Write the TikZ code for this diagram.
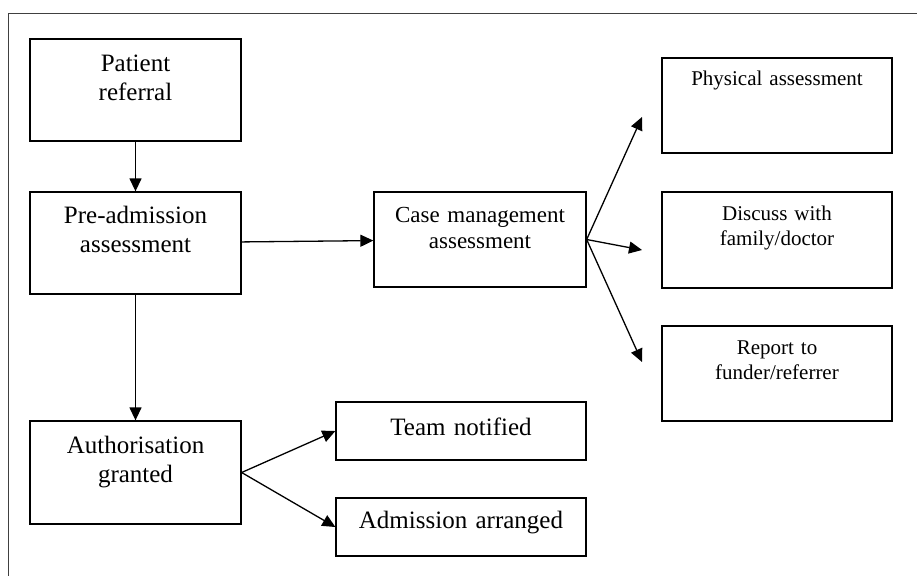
\documentclass[tikz,border=0pt]{standalone}
\usepackage{fontspec}
\setmainfont{Liberation Serif}
\usetikzlibrary{arrows.meta}

\tikzset{
  box/.style={draw, line width=1.3pt, inner sep=0pt, align=center},
  bigtext/.style={font=\fontsize{25}{29}\selectfont},
  midtext/.style={font=\fontsize{23}{26}\selectfont},
  smalltext/.style={font=\fontsize{21}{25}\selectfont},
  arr/.style={line width=1.3pt, -{Triangle[length=13pt,width=12pt]}},
}

\begin{document}
\begin{tikzpicture}[x=1pt,y=-1pt]
\useasboundingbox (0,0) rectangle (917,576);
\draw[line width=1pt, black!75] (917,13) -- (8,13) -- (8,576);

\node[box, bigtext, text width=211pt, text height=32pt, text depth=70pt] (ref) at (135.5,90) {Patient\\referral};
\node[box, bigtext, text width=211pt, text height=31pt, text depth=71pt] (pre) at (135.5,243) {Pre-admission\\assessment};
\node[box, bigtext, text width=211pt, text height=32pt, text depth=71pt] (auth) at (135.5,472.5) {Authorisation\\granted};
\node[box, bigtext, text width=250pt, text height=33pt, text depth=25pt] (team) at (461,431) {Team notified};
\node[box, bigtext, text width=250pt, text height=30pt, text depth=28pt] (adm) at (461,527) {Admission arranged};
\node[box, midtext, text width=212pt, text height=30pt, text depth=65pt] (case) at (480,239.5) {Case management\\assessment};
\node[box, smalltext, text width=230pt, text height=27pt, text depth=68pt] (phys) at (777,105.5) {Physical assessment};
\node[box, smalltext, text width=230pt, text height=28pt, text depth=68pt] (disc) at (777,240) {Discuss with\\family/doctor};
\node[box, smalltext, text width=230pt, text height=28pt, text depth=67pt] (rep) at (777,373.5) {Report to\\funder/referrer};

\coordinate (physin) at (642,117);
\coordinate (discin) at (642,250);
\coordinate (repin) at (642,362);

\path[draw,arr] (ref) -- (pre);
\path[draw,arr] (pre) -- (case);
\path[draw,arr] (pre) -- (auth);
\path[draw,arr] (case.east) -- (physin);
\path[draw,arr] (case.east) -- (discin);
\path[draw,arr] (case.east) -- (repin);
\path[draw,arr] (auth.east) -- (team.west);
\path[draw,arr] (auth.east) -- (adm.west);
\end{tikzpicture}
\end{document}
